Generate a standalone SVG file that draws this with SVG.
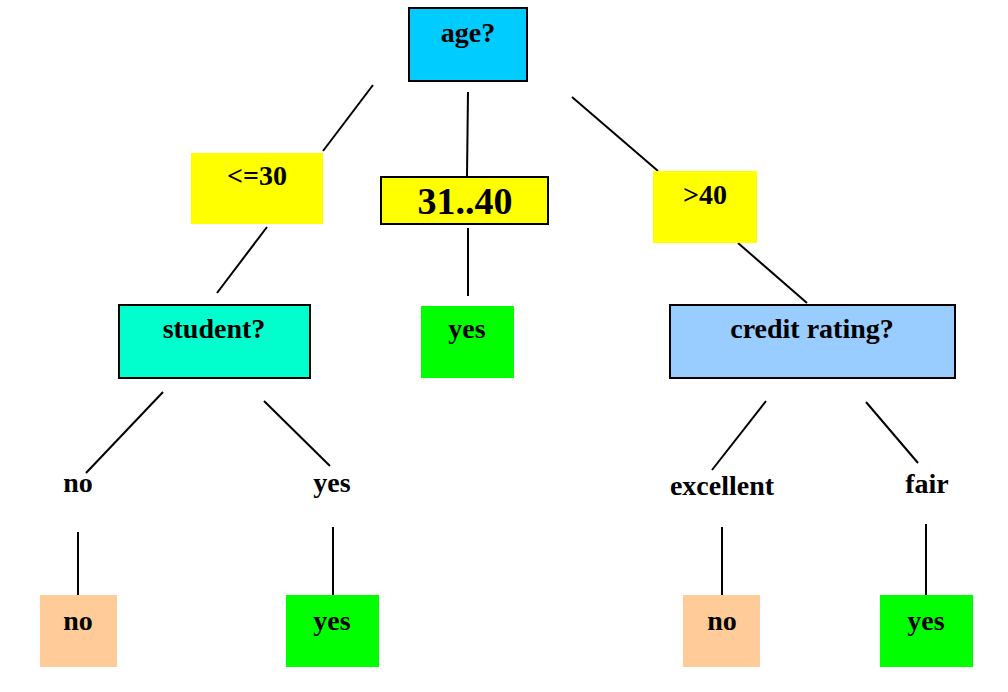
<svg xmlns="http://www.w3.org/2000/svg" width="1008" height="692" viewBox="0 0 1008 692">
<style>
text{font-family:"Liberation Serif","Times New Roman",serif;font-weight:bold;font-size:28px;fill:#000;text-anchor:middle}
.big{font-size:38px}
.b{stroke:#000;stroke-width:2}
.yel{fill:#FFFF00}
.grn{fill:#00FF00}
.org{fill:#FFCC99}
#connectors line{stroke:#000;stroke-width:2}
</style>
<rect width="1008" height="692" fill="#fff"/>
<g id="connectors">
<line x1="373" y1="85" x2="323" y2="151"/>
<line x1="468" y1="92" x2="467" y2="176"/>
<line x1="572" y1="97" x2="658" y2="171"/>
<line x1="267" y1="227" x2="217" y2="293"/>
<line x1="468" y1="228" x2="468" y2="296"/>
<line x1="738" y1="243" x2="807" y2="303"/>
<line x1="163" y1="392" x2="86" y2="473"/>
<line x1="264" y1="401" x2="330" y2="466"/>
<line x1="78" y1="532" x2="78" y2="595"/>
<line x1="333" y1="527" x2="333" y2="595"/>
<line x1="766" y1="401" x2="712" y2="470"/>
<line x1="866" y1="402" x2="918" y2="463"/>
<line x1="722" y1="527" x2="722" y2="595"/>
<line x1="926" y1="524" x2="926" y2="595"/>
</g>
<g id="age"><rect x="409" y="8" width="118" height="73" fill="#00CCFF" class="b"/><text x="468" y="42">age?</text></g>
<g id="le30"><rect x="191" y="153" width="132" height="71" class="yel"/><text x="257" y="185">&lt;=30</text></g>
<g id="r3140"><rect x="381" y="177" width="167" height="47" class="yel b"/><text x="465" y="214" class="big">31..40</text></g>
<g id="gt40"><rect x="653" y="171" width="104" height="72" class="yel"/><text x="705" y="204">&gt;40</text></g>
<g id="student"><rect x="119" y="305" width="191" height="73" fill="#00FFCC" class="b"/><text x="214" y="338">student?</text></g>
<g id="yesMid"><rect x="421" y="306" width="93" height="72" class="grn"/><text x="467" y="338">yes</text></g>
<g id="credit"><rect x="670" y="305" width="285" height="73" fill="#99CCFF" class="b"/><text x="812" y="338">credit rating?</text></g>
<g id="lblNo"><text x="78" y="492">no</text></g>
<g id="lblYes"><text x="332" y="492">yes</text></g>
<g id="lblExcellent"><text x="722" y="495">excellent</text></g>
<g id="lblFair"><text x="927" y="493">fair</text></g>
<g id="leafNo1"><rect x="40" y="595" width="77" height="72" class="org"/><text x="78" y="630">no</text></g>
<g id="leafYes1"><rect x="286" y="595" width="93" height="72" class="grn"/><text x="332" y="630">yes</text></g>
<g id="leafNo2"><rect x="683" y="595" width="77" height="72" class="org"/><text x="722" y="630">no</text></g>
<g id="leafYes2"><rect x="880" y="595" width="93" height="72" class="grn"/><text x="926" y="630">yes</text></g>
</svg>
